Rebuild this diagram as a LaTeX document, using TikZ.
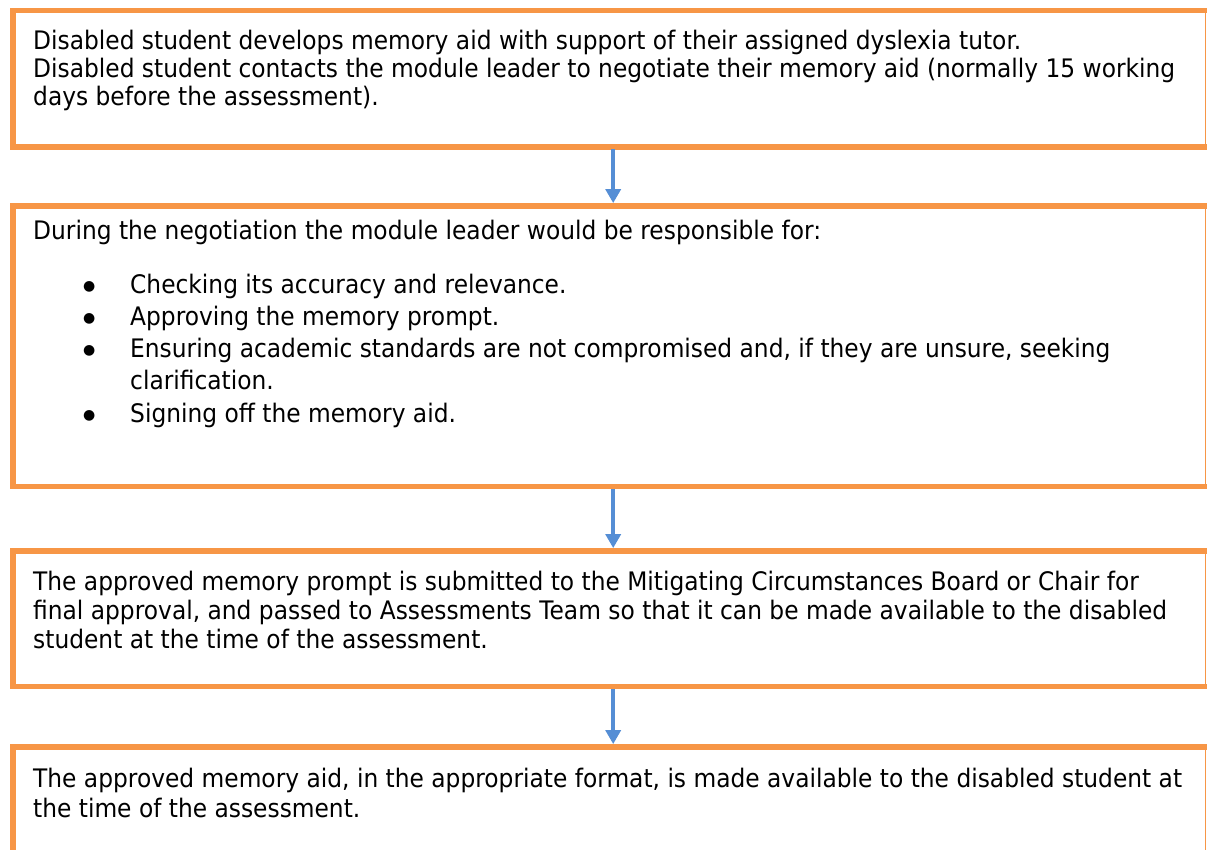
\documentclass[tikz,border=0pt]{standalone}
\usepackage{fontspec}
\setmainfont{DejaVu Sans}[FakeStretch=0.915]
\newfontfamily\bulletfont{DejaVu Sans}
\usetikzlibrary{arrows.meta}
\definecolor{boxorange}{HTML}{F79646}
\definecolor{arrowblue}{HTML}{558ED5}
\begin{document}
\begin{tikzpicture}[x=1pt,y=-1pt,
  txt/.style={anchor=base west,inner sep=0pt,font=\fontsize{25.5}{29}\selectfont},
  bul/.style={anchor=center,inner sep=0pt,font=\bulletfont\fontsize{14}{14}\selectfont},
  flowbox/.style={anchor=north west,draw=none,inner sep=0pt,minimum width=1192.5pt},
  thickedge/.style={draw=boxorange,line width=5.5pt},
  thinedge/.style={draw=boxorange,line width=1pt},
  flowarrow/.style={draw=arrowblue,line width=4pt,-{Triangle[width=15pt,length=14pt]}}]
\useasboundingbox (0,0) rectangle (1207,850);
\clip (0,0) rectangle (1207,850);
% box frames
\node[flowbox,minimum height=136pt] (b1) at (13,10.5) {};
\node[flowbox,minimum height=280pt] (b2) at (13,206) {};
\node[flowbox,minimum height=135pt] (b3) at (13,551) {};
\node[flowbox,minimum height=120pt] (b4) at (13,747) {};
\foreach \b in {b1,b2,b3,b4}{
  \draw[thinedge] (\b.north east) -- (\b.south east);
  \draw[thickedge] ([xshift=4pt]\b.north east) -- (\b.north west) -- (\b.south west) -- ([xshift=4pt]\b.south east);
}
% arrows
\draw[flowarrow] ([xshift=3.75pt,yshift=-2.5pt]b1.south) -- ([xshift=3.75pt,yshift=2.9pt]b2.north);
\draw[flowarrow] ([xshift=3.75pt,yshift=-2.5pt]b2.south) -- ([xshift=3.75pt,yshift=2.9pt]b3.north);
\draw[flowarrow] ([xshift=3.75pt,yshift=-2.5pt]b3.south) -- ([xshift=3.75pt,yshift=2.9pt]b4.north);
% box 1 text
\node[txt] (t1a) at (33,50) {Disabled student develops memory aid with support of their assigned dyslexia tutor.};
\node[txt] (t1b) at (33,77.7) {Disabled student contacts the module leader to negotiate their memory aid (normally 15 working};
\node[txt] (t1c) at (33,105.4) {days before the assessment).};
% box 2 text
\node[txt] (t2a) at (33,240) {During the negotiation the module leader would be responsible for:};
\node[bul] (p1) at (89.3,286.7) {●};
\node[txt] (t2b) at (130,293.3) {Checking its accuracy and relevance.};
\node[bul] (p2) at (89.3,318.9) {●};
\node[txt] (t2c) at (130,325.5) {Approving the memory prompt.};
\node[bul] (p3) at (89.3,351.1) {●};
\node[txt] (t2d) at (130,357.7) {Ensuring academic standards are not compromised and, if they are unsure, seeking};
\node[txt] (t2e) at (130,389.9) {clarification.};
\node[bul] (p4) at (89.3,415.5) {●};
\node[txt] (t2f) at (130,422.1) {Signing off the memory aid.};
% box 3 text
\node[txt] (t3a) at (33,590) {The approved memory prompt is submitted to the Mitigating Circumstances Board or Chair for};
\node[txt] (t3b) at (33,619) {final approval, and passed to Assessments Team so that it can be made available to the disabled};
\node[txt] (t3c) at (33,648) {student at the time of the assessment.};
% box 4 text
\node[txt] (t4a) at (33,787) {The approved memory aid, in the appropriate format, is made available to the disabled student at};
\node[txt] (t4b) at (33,817) {the time of the assessment.};
\end{tikzpicture}
\end{document}
